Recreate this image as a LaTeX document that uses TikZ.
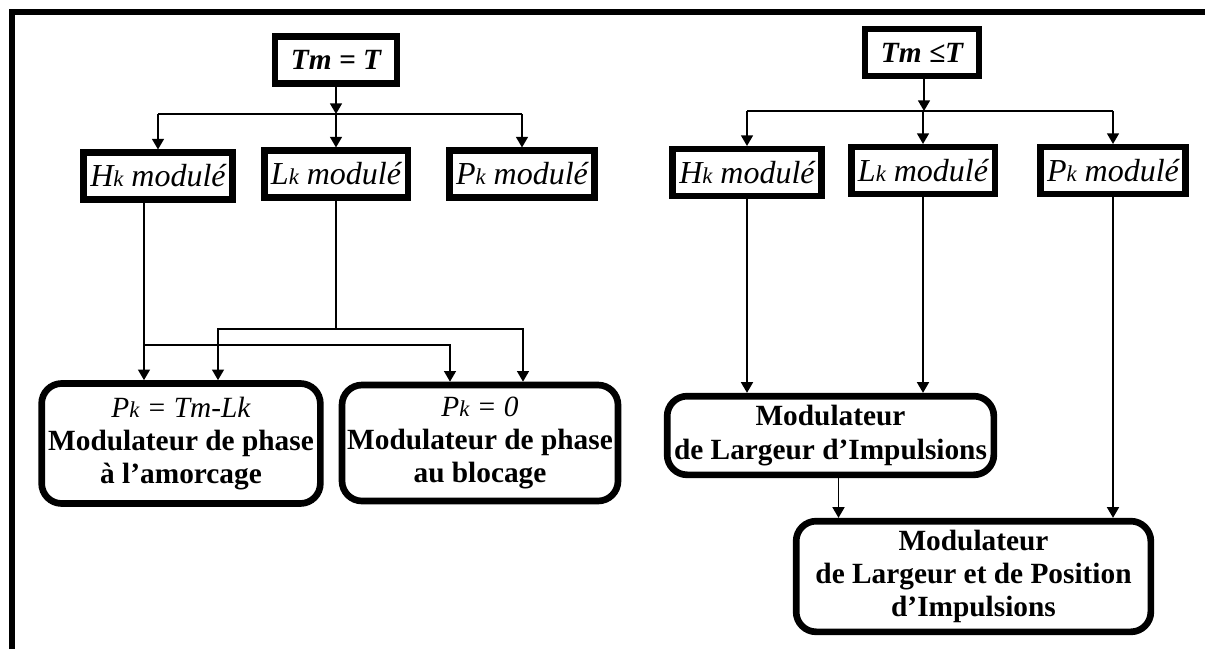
\documentclass[tikz,border=0pt]{standalone}
\usepackage{fontspec}
\setmainfont{Liberation Serif}
\usepackage{tikz}
\usetikzlibrary{calc, arrows.meta}

% petit indice k posé sur la ligne de base
\newcommand{\indice}[1]{{\fontsize{17}{17}\selectfont #1}}

\tikzset{
    etat/.style={draw, line width=4.8pt, fill=white, inner xsep=5pt, minimum height=35pt,
        font=\fontsize{24}{27}\selectfont\itshape},
    titre/.style={etat, inner xsep=12pt, font=\fontsize{22}{25}\selectfont\bfseries\itshape},
    modulateur/.style={draw, line width=5pt, rounded corners=15pt, align=center,
        font=\fontsize{22}{25}\selectfont\bfseries},
    lien/.style={line width=1.2pt},
    fleche/.style={lien, ->}
}

\begin{document}
\begin{tikzpicture}[x=0.75pt, y=-0.75pt, >={Triangle[length=8pt,width=9pt]}]
    % Cadre (bords haut et gauche seulement)
    \useasboundingbox (0,0) rectangle (1205,649);
    \draw[line width=4.5pt] (12,649) -- (12,12) -- (1205,12);

    % Cas Tm = T
    \node[titre] (tmA) at (336,60) {Tm = T};
    \node[etat] (hA) at (158,176) {H\indice{k} modulé};
    \node[etat] (lA) at (336,174) {L\indice{k} modulé};
    \node[etat] (pA) at (522,174) {P\indice{k} modulé};
    \node[modulateur, minimum width=209pt, minimum height=90pt] (mpA) at (181,443.5)
        {{\mdseries\itshape P\indice{k} = Tm-Lk}\\ Modulateur de phase\\ à l’amorcage};
    \node[modulateur, minimum width=207pt, minimum height=87pt] (mpB) at (480,443)
        {{\mdseries\itshape P\indice{k} = 0}\\ Modulateur de phase\\ au blocage};

    % Distribution vers Hk, Lk, Pk
    \coordinate (jA) at (336,114);
    \draw[fleche] (tmA) -- (jA);
    \draw[lien] (jA -| hA) -- (jA -| pA);
    \draw[fleche] (jA -| hA) -- (hA);
    \draw[fleche] (jA) -- (lA);
    \draw[fleche] (jA -| pA) -- (pA);

    % Hk et Lk vers les deux modulateurs de phase
    \coordinate (hAo) at ($(hA.south)+(-14,0)$);
    \coordinate (bH) at (144,345);
    \coordinate (bL) at (336,329);
    \draw[fleche] (hAo) -- (hAo |- mpA.north);
    \draw[fleche] (bH) -| ($(mpB.north)+(-30,0)$);
    \draw[lien] (lA) -- (bL);
    \draw[fleche] (bL) -| ($(mpA.north)+(37,0)$);
    \draw[fleche] (bL) -| ($(mpB.north)+(43,0)$);

    % Cas Tm <= T
    \node[titre] (tmB) at (922,52.5) {Tm ≤T};
    \node[etat] (hB) at (747,172.5) {H\indice{k} modulé};
    \node[etat] (lB) at (923,170.5) {L\indice{k} modulé};
    \node[etat] (pB) at (1113,170.5) {P\indice{k} modulé};
    \node[modulateur, minimum width=245pt, minimum height=59pt] (mli) at (830.5,435.5)
        {Modulateur\\ de Largeur d’Impulsions};
    \node[modulateur, minimum width=266pt, minimum height=83pt] (mlpi) at (973.5,576.5)
        {Modulateur\\ de Largeur et de Position\\ d’Impulsions};

    % Distribution vers Hk, Lk, Pk
    \coordinate (jB) at (924,111);
    \draw[fleche] (tmB.south -| jB) -- (jB);
    \draw[lien] (jB -| hB) -- (jB -| pB);
    \draw[fleche] (jB -| hB) -- (hB);
    \draw[fleche] (jB -| lB) -- (lB);
    \draw[fleche] (jB -| pB) -- (pB);

    % Vers les modulateurs de largeur (et de position)
    \coordinate (mlio) at ($(mli.south)+(8,0)$);
    \draw[fleche] (hB) -- (hB |- mli.north);
    \draw[fleche] (lB) -- (lB |- mli.north);
    \draw[fleche] (mlio) -- (mlio |- mlpi.north);
    \draw[fleche] (pB) -- (pB |- mlpi.north);
\end{tikzpicture}
\end{document}
